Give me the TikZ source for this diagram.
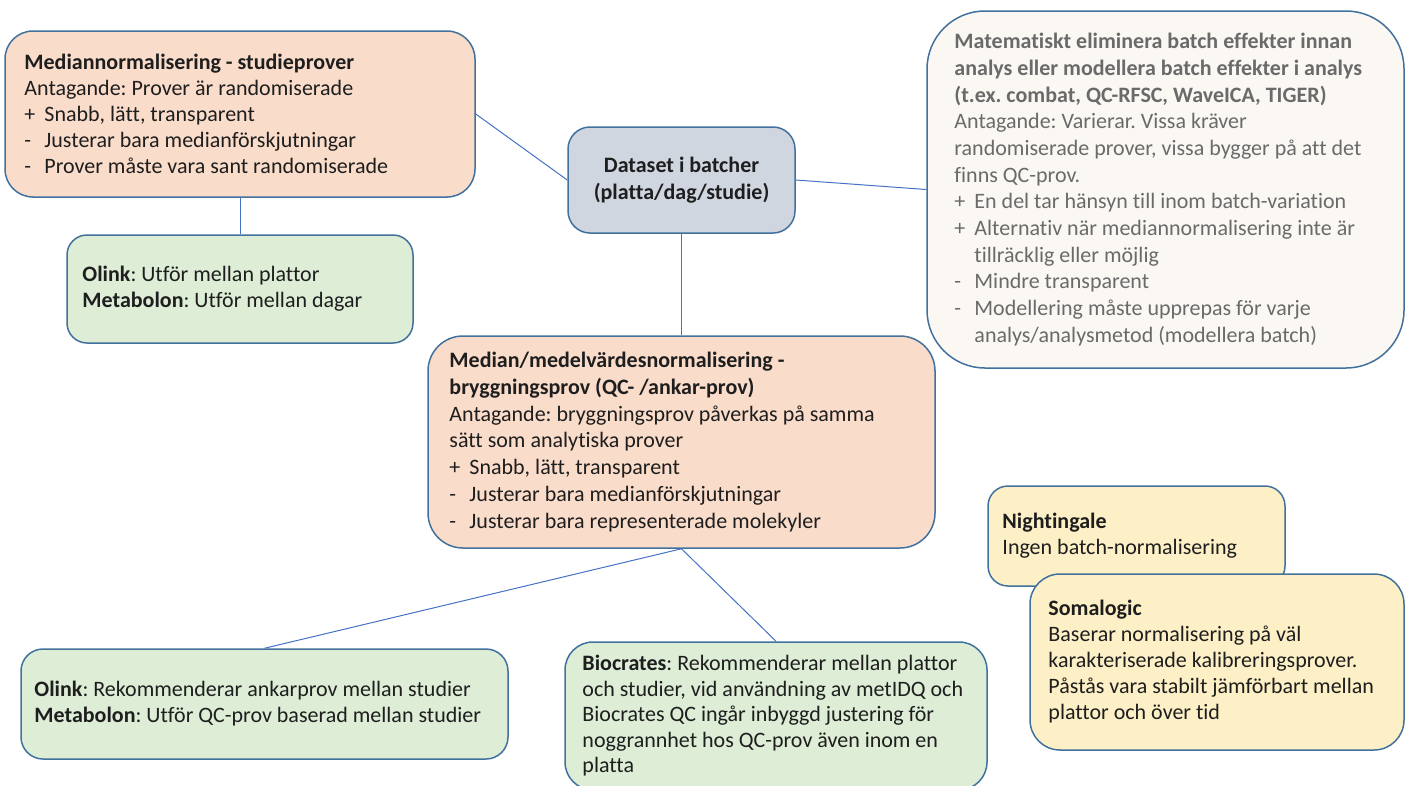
\documentclass[tikz,border=0pt]{standalone}
\usepackage{fontspec}
\setmainfont{Carlito}[Ligatures=NoCommon]
\frenchspacing
\definecolor{edge}{HTML}{41719C}
\definecolor{link}{HTML}{4472C4}
\definecolor{peach}{HTML}{FADCCA}
\definecolor{greenf}{HTML}{DDEDD6}
\definecolor{yellowf}{HTML}{FDF0C6}
\definecolor{grayblue}{HTML}{CFD6E0}
\definecolor{creamf}{HTML}{FBF8F3}
\definecolor{txtc}{HTML}{1E1E1E}
\definecolor{graytxt}{HTML}{6A6A6A}
\newcommand{\myitem}[2]{\makebox[20pt][l]{#1}#2}
\newcommand{\mycont}[1]{\hspace*{20pt}#1}
\tikzset{
  shape box/.style={draw=edge, line width=1.5pt, inner sep=0pt},
  txtblock/.style={anchor=west, inner sep=0pt, align=left, text=txtc, font=\fontsize{22}{26}\selectfont},
  conn/.style={draw=link, line width=1pt},
}
\begin{document}
\begin{tikzpicture}[x=1pt,y=-1pt]
\useasboundingbox (0,0) rectangle (1410,785);
\clip (0,0) rectangle (1410,785);

% boxes
\node[shape box, fill=peach, minimum width=470pt, minimum height=166pt, rounded corners=28pt] (A) at (240,114) {};
\node[txtblock] (At) at ([xshift=20pt]A.west) {\textbf{Mediannormalisering - studieprover}\\
Antagande: Prover är randomiserade\\
\myitem{+}{Snabb, lätt, transparent}\\
\myitem{-}{Justerar bara medianförskjutningar}\\
\myitem{-}{Prover måste vara sant randomiserade}};

\node[shape box, fill=grayblue, minimum width=227pt, minimum height=106pt, rounded corners=22pt,
  align=center, text=txtc, font=\fontsize{22}{27}\selectfont\bfseries] (C) at (681.5,180) {Dataset i batcher\\(platta/dag/studie)};

\node[shape box, fill=creamf, minimum width=477pt, minimum height=357pt, rounded corners=58pt] (R) at (1165.5,189.5) {};
\node[txtblock, text=graytxt, font=\fontsize{22}{26.7}\selectfont] (Rt) at ([xshift=28pt]R.west) {\textbf{Matematiskt eliminera batch effekter innan}\\
\textbf{analys eller modellera batch effekter i analys}\\
\textbf{(t.ex. combat, QC-RFSC, WaveICA, TIGER)}\\
Antagande: Varierar. Vissa kräver\\
randomiserade prover, vissa bygger på att det\\
finns QC-prov.\\
\myitem{+}{En del tar hänsyn till inom batch-variation}\\
\myitem{+}{Alternativ när mediannormalisering inte är}\\
\mycont{tillräcklig eller möjlig}\\
\myitem{-}{Mindre transparent}\\
\myitem{-}{Modellering måste upprepas för varje}\\
\mycont{analys/analysmetod (modellera batch)}};

\node[shape box, fill=greenf, minimum width=346pt, minimum height=108pt, rounded corners=20pt] (G1) at (240,289) {};
\node[txtblock] (G1t) at ([xshift=16pt]G1.west) {\textbf{Olink}: Utför mellan plattor\\
\textbf{Metabolon}: Utför mellan dagar};

\node[shape box, fill=peach, minimum width=507pt, minimum height=212pt, rounded corners=35pt] (M) at (681.5,442) {};
\node[txtblock, font=\fontsize{22}{26.7}\selectfont] (Mt) at ([xshift=22pt]M.west) {\textbf{Median/medelvärdesnormalisering -}\\
\textbf{bryggningsprov (QC- /ankar-prov)}\\
Antagande: bryggningsprov påverkas på samma\\
sätt som analytiska prover\\
\myitem{+}{Snabb, lätt, transparent}\\
\myitem{-}{Justerar bara medianförskjutningar}\\
\myitem{-}{Justerar bara representerade molekyler}};

\node[shape box, fill=yellowf, minimum width=297pt, minimum height=100pt, rounded corners=20pt] (N) at (1136.5,536) {};
\node[txtblock] (Nt) at ([xshift=15pt]N.west) {\textbf{Nightingale}\\
Ingen batch-normalisering};

\node[shape box, fill=yellowf, minimum width=374pt, minimum height=176pt, rounded corners=30pt] (S) at (1217,662) {};
\node[txtblock] (St) at ([xshift=19pt]S.west) {\textbf{Somalogic}\\
Baserar normalisering på väl\\
karakteriserade kalibreringsprover.\\
Påstås vara stabilt jämförbart mellan\\
plattor och över tid};

\node[shape box, fill=greenf, minimum width=487pt, minimum height=110pt, rounded corners=22pt] (G2) at (264.5,704) {};
\node[txtblock] (G2t) at ([xshift=14pt]G2.west) {\textbf{Olink}: Rekommenderar ankarprov mellan studier\\
\textbf{Metabolon}: Utför QC-prov baserad mellan studier};

\node[shape box, fill=greenf, minimum width=422pt, minimum height=148pt, rounded corners=28pt] (B) at (776,716) {};
\node[txtblock, font=\fontsize{22}{25.5}\selectfont] (Bt) at ([xshift=18pt]B.west) {\textbf{Biocrates}: Rekommenderar mellan plattor\\
och studier, vid användning av metIDQ och\\
Biocrates QC ingår inbyggd justering för\\
noggrannhet hos QC-prov även inom en\\
platta};

% connectors
\draw[conn] (A.east) -- (C.west);
\draw[conn] (C.east) -- (R.west);
\draw[conn] (C.south) -- (M.north);
\draw[conn] (A.south) -- (G1.north);
\draw[conn] (M.south) -- (G2.north);
\draw[conn] (M.south) -- (B.north);
\end{tikzpicture}
\end{document}
